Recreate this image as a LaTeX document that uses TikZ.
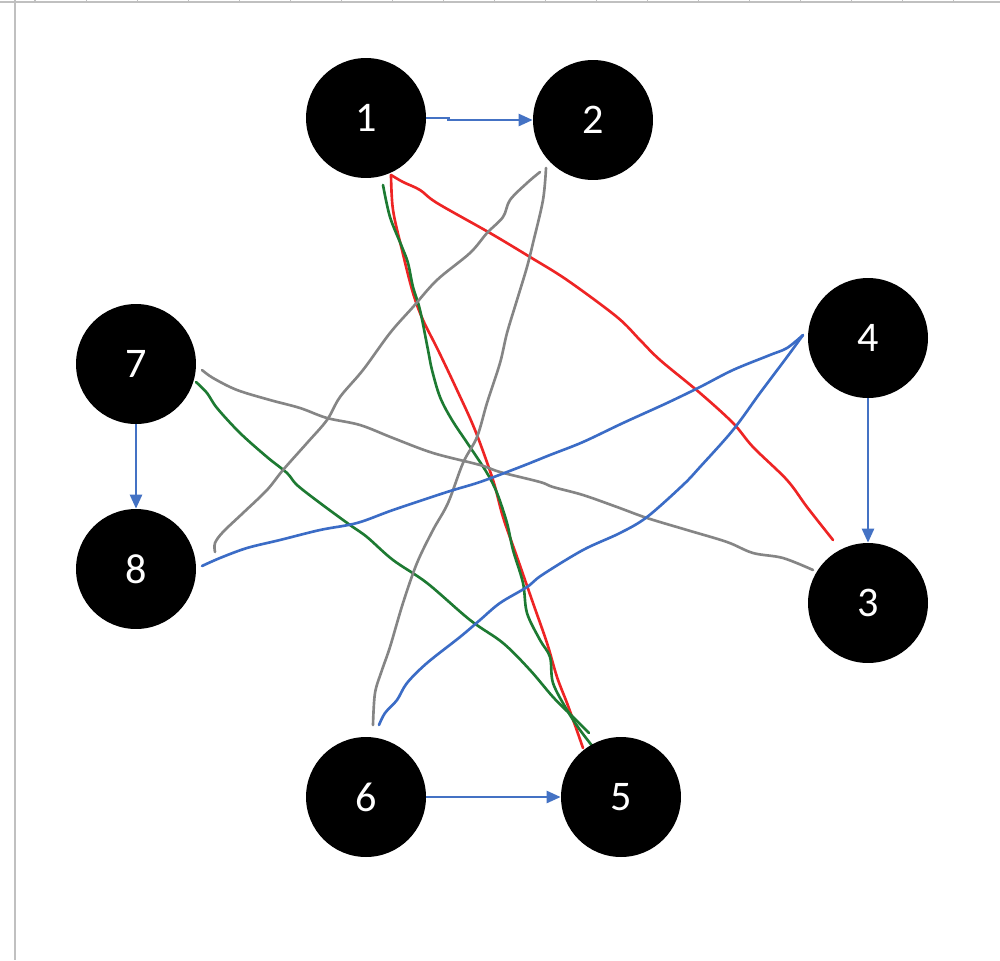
\documentclass[tikz,border=0pt]{standalone}
\usepackage{fontspec}
\setmainfont{Carlito}
\usepackage{tikz}
\usetikzlibrary{arrows.meta}

\definecolor{arrowblue}{HTML}{4472C4}
\definecolor{penblue}{HTML}{3B6CC6}
\definecolor{penred}{HTML}{EE2424}
\definecolor{pengreen}{HTML}{1D7A32}
\definecolor{pengray}{HTML}{858585}
\definecolor{sheetgray}{HTML}{C0C0C0}

\tikzset{
  vertex/.style={circle, fill=black, text=white, minimum size=2.4cm, inner sep=0pt,
    font=\fontsize{24}{24}\selectfont},
  link/.style={arrowblue, line width=1.4pt, -{Triangle[length=0.28cm, width=0.24cm]}},
  ink/.style={line width=1.5pt, line cap=round, line join=round, smooth, tension=0.55}
}

\begin{document}
\begin{tikzpicture}[x=0.02cm, y=-0.02cm]
    \useasboundingbox (0,0) rectangle (1000,960);
    \fill[white] (0,0) rectangle (1000,960);

    % Sheet border and column ticks
    \draw[sheetgray, line width=0.6pt] (0,2) -- (1000,2);
    \draw[sheetgray, line width=0.6pt] (15,0) -- (15,960);
    \foreach \k in {0,...,18} {
      \draw[sheetgray, line width=0.6pt] (35+51.04*\k,0) -- (35+51.04*\k,2);
    }

    % Hand drawn strokes
    \draw[ink, penred] plot coordinates {(391,175) (393,210) (402,250) (413,293) (423,320) (438,350) (457,390) (475,430) (493,480) (503,517) (517,557) (533,603) (547,643) (557,677) (567,703) (576,728) (583,748)};
    \draw[ink, penred] plot coordinates {(391,175) (403,182) (420,190) (437,203) (490,233) (530,257) (567,280) (617,317) (640,340) (660,360) (700,393) (733,423) (753,447) (787,480) (807,507) (833,540)};
    \draw[ink, pengreen] plot coordinates {(383,185) (390,217) (402,247) (408,263) (413,287) (420,310) (428,350) (432,370) (440,397) (452,420) (470,447) (487,473) (497,493) (507,523) (513,550) (523,583) (527,613) (540,640) (550,657) (553,683) (567,710) (580,730) (597,752)};
    \draw[ink, pengreen] plot coordinates {(196,382) (207,393) (217,408) (240,433) (267,457) (287,473) (297,485) (320,503) (350,525) (367,537) (393,560) (427,583) (470,620) (503,643) (530,670) (553,697) (573,717) (589,733)};
    \draw[ink, pengray] plot coordinates {(546,168) (543,200) (533,243) (527,267) (517,300) (507,333) (500,363) (487,403) (477,437) (463,463) (448,503) (433,530) (417,563) (403,603) (390,647) (382,670) (375,693) (373,725)};
    \draw[ink, pengray] plot coordinates {(540,172) (527,183) (510,200) (503,217) (487,233) (470,253) (437,280) (413,307) (390,333) (363,370) (340,397) (327,420) (307,443) (283,470) (267,490) (243,513) (223,532) (215,543) (215,552)};
    \draw[ink, pengray] plot coordinates {(202,370) (213,378) (237,390) (270,400) (300,408) (327,418) (360,425) (393,438) (433,453) (480,465) (500,472) (540,482) (553,487) (583,495) (617,507) (647,518) (687,530) (727,542) (753,553) (783,558) (813,570)};
    \draw[ink, penblue] plot coordinates {(803,335) (787,348) (770,355) (733,370) (700,387) (667,403) (623,423) (583,442) (550,455) (520,467) (480,482) (447,492) (393,510) (357,523) (320,530) (280,540) (247,548) (220,558) (202,566)};
    \draw[ink, penblue] plot coordinates {(803,335) (787,357) (760,393) (733,430) (700,467) (683,485) (647,517) (620,533) (583,550) (542,575) (527,587) (500,603) (480,620) (460,637) (427,663) (407,683) (397,700) (385,713) (379,725)};

    % Vertices
    \foreach \n/\x/\y in {1/366/118, 2/593/120, 3/868/603, 4/868/338, 5/621/797, 6/366/797, 7/136/364, 8/136/569} {
      \node[vertex] (n\n) at (\x,\y) {\n};
    }

    % Arrows
    \draw[link] (n1.east) -- ++(22,0) |- (n2.west);
    \draw[link] (n7) -- (n8);
    \draw[link] (n4) -- (n3);
    \draw[link] (n6) -- (n5);
\end{tikzpicture}
\end{document}
